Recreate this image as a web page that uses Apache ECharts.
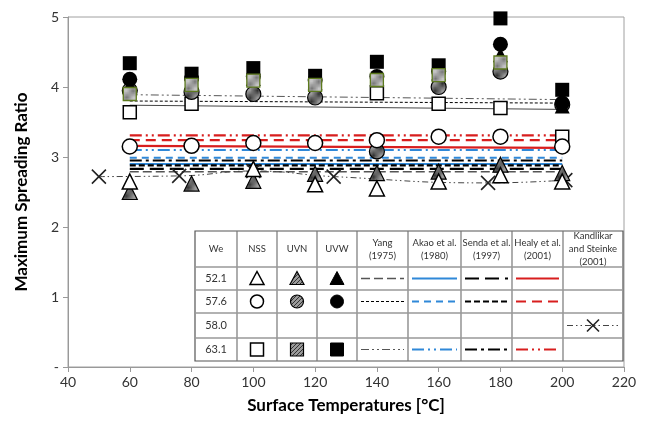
<!DOCTYPE html>
<html>
<head>
<meta charset="utf-8">
<script src="https://cdn.jsdelivr.net/npm/echarts@6/dist/echarts.min.js"></script>
<style>
  html, body { margin: 0; padding: 0; background: #fff; }
  #chart { width: 648px; height: 423px; }
</style>
</head>
<body>
<div id="chart"></div>
<script>
// surface temperatures (x) for the experiment points
const temps = [60, 80, 100, 120, 140, 160, 180, 200];

// experiments: NSS / UVN / UVW for We 52.1 (triangles), 57.6 (circles), 63.1 (squares)
const nss521 = [2.65, null, 2.83, 2.61, 2.55, 2.65, 2.74, 2.65];
const uvn521 = [2.50, 2.62, 2.66, 2.76, 2.77, 2.79, 2.89, 2.77];
const uvw521 = [4.02, 4.08, 4.12, 4.06, 4.12, 4.20, 4.46, 3.73];
const nss576 = [3.15, 3.16, 3.20, 3.20, 3.24, 3.29, 3.29, 3.15];
const uvn576 = [3.95, 3.93, 3.90, 3.85, 3.08, 4.00, 4.22, 3.75];
const uvw576 = [4.11, 4.12, 4.15, 4.10, 4.15, 4.22, 4.61, 3.77];
const nss631 = [3.64, 3.76, null, null, 3.91, 3.76, 3.70, 3.29];
const uvn631 = [3.90, 4.03, 4.09, 4.03, 4.10, 4.17, 4.35, null];
const uvw631 = [4.34, 4.19, 4.27, 4.16, 4.36, 4.31, 4.98, 3.96];

// correlations, value at 60 and at 200 °C
const modelX = [60, 200];
const yang521 = [2.79, 2.79];
const yang576 = [3.80, 3.77];
const yang631 = [3.89, 3.82];
const trendLine = [3.74, 3.68];
const akao521 = [2.90, 2.90];
const akao576 = [2.99, 2.99];
const akao631 = [3.10, 3.10];
const senda521 = [2.83, 2.83];
const senda576 = [2.88, 2.88];
const senda631 = [2.95, 2.95];
const healy521 = [3.16, 3.13];
const healy576 = [3.24, 3.24];
const healy631 = [3.31, 3.31];

// Kandlikar and Steinke (2001), We 58.0
const kandX = [50, 76, 100, 126, 176, 201];
const kandY = [2.72, 2.73, 2.80, 2.72, 2.63, 2.67];

const FONT = 'Lato';
const BLUE = '#2f88d8', RED = '#d81e1e', BLK = '#000', GREY = '#555';

function hatch(bg, fg) {
  const c = document.createElement('canvas');
  c.width = c.height = 4;
  const g = c.getContext('2d');
  g.fillStyle = bg; g.fillRect(0, 0, 4, 4);
  g.strokeStyle = fg; g.lineWidth = 1;
  g.beginPath(); g.moveTo(0, 4); g.lineTo(4, 0); g.stroke();
  return { image: c, repeat: 'repeat' };
}
const hatchDark = hatch('#9a9a9a', '#333');
const hatchLight = hatch('#c4c4c4', '#777');

const pair = (xs, ys) => xs.map((x, i) => [x, ys[i]]);

function modelSeries(name, ys, color, width, dash) {
  return {
    name, type: 'line', data: pair(modelX, ys), symbol: 'none', silent: true,
    lineStyle: { color, width, type: dash }, z: 2
  };
}

function pointSeries(name, ys, symbol, size, itemStyle) {
  return {
    name, type: 'scatter', data: pair(temps, ys), symbol, symbolSize: size,
    itemStyle: Object.assign({ opacity: 1 }, itemStyle), z: 5
  };
}

const series = [
  modelSeries('Yang 52.1', yang521, GREY, 1.5, [9, 4]),
  modelSeries('Yang 57.6', yang576, BLK, 1, [3, 2]),
  modelSeries('Yang 63.1', yang631, GREY, 1, [8, 3, 2, 3, 2, 3]),
  modelSeries('trend', trendLine, '#444', 1, 'solid'),
  modelSeries('Akao 52.1', akao521, BLUE, 2, 'solid'),
  modelSeries('Akao 57.6', akao576, BLUE, 2, [7, 5]),
  modelSeries('Akao 63.1', akao631, BLUE, 2, [12, 4, 2, 4, 2, 4]),
  modelSeries('Senda 52.1', senda521, BLK, 2.2, [14, 6]),
  modelSeries('Senda 57.6', senda576, BLK, 2.2, [6, 3]),
  modelSeries('Senda 63.1', senda631, BLK, 2.2, [12, 4, 3, 4]),
  modelSeries('Healy 52.1', healy521, RED, 2.2, 'solid'),
  modelSeries('Healy 57.6', healy576, RED, 2.2, [10, 6]),
  modelSeries('Healy 63.1', healy631, RED, 2.2, [12, 4, 2, 4, 2, 4]),
  {
    name: 'Kandlikar', type: 'line', data: pair(kandX, kandY), smooth: true,
    symbol: 'path://M0,0L10,10M10,0L0,10', symbolSize: 14, showSymbol: true,
    lineStyle: { color: '#444', width: 1, type: [6, 3, 1.5, 3, 1.5, 3] },
    itemStyle: { color: 'none', borderColor: '#222', borderWidth: 1.6 }, z: 4
  },
  pointSeries('NSS 63.1', nss631, 'rect', 13, { color: '#fff', borderColor: BLK, borderWidth: 1.5 }),
  pointSeries('UVN 57.6', uvn576, 'circle', 15, { color: hatchDark, borderColor: BLK, borderWidth: 1.2 }),
  pointSeries('UVW 52.1', uvw521, 'triangle', 15, { color: BLK }),
  pointSeries('UVW 57.6', uvw576, 'circle', 15, { color: BLK }),
  pointSeries('UVW 63.1', uvw631, 'rect', 14, { color: BLK }),
  pointSeries('UVN 63.1', uvn631, 'rect', 13, { color: hatchLight, borderColor: '#5d7a1e', borderWidth: 1.3 }),
  pointSeries('UVN 52.1', uvn521, 'triangle', 15, { color: hatchDark, borderColor: BLK, borderWidth: 1.2 }),
  pointSeries('NSS 52.1', nss521, 'triangle', 15, { color: '#fff', borderColor: BLK, borderWidth: 1.5 }),
  pointSeries('NSS 57.6', nss576, 'circle', 15, { color: '#fff', borderColor: BLK, borderWidth: 1.5 })
];

// legend table, drawn as graphic overlay
const colX = [195, 237, 277, 317, 357, 408, 461, 512, 563, 623];
const rowY = [231, 267, 290, 313, 338, 361];
const headers = ['We', 'NSS', 'UVN', 'UVW', 'Yang\n(1975)', 'Akao et al.\n(1980)',
  'Senda et al.\n(1997)', 'Healy et al.\n(2001)', 'Kandlikar\nand Steinke\n(2001)'];
const rowLabels = ['52.1', '57.6', '58.0', '63.1'];

function buildTable() {
  const g = [];
  const L = colX[0], R = colX[colX.length - 1], T = rowY[0], B = rowY[rowY.length - 1];
  g.push({ type: 'rect', shape: { x: L, y: T, width: R - L, height: B - T },
    style: { fill: '#fff', stroke: '#555', lineWidth: 1.2 }, z: 10 });
  colX.slice(1, -1).forEach(x => g.push({ type: 'line', shape: { x1: x, y1: T, x2: x, y2: B },
    style: { stroke: '#777', lineWidth: 1.2 }, z: 11 }));
  rowY.slice(1, -1).forEach(y => g.push({ type: 'line', shape: { x1: L, y1: y, x2: R, y2: y },
    style: { stroke: '#999', lineWidth: 1.6 }, z: 11 }));
  const cx = i => (colX[i] + colX[i + 1]) / 2;
  const cy = j => (rowY[j] + rowY[j + 1]) / 2;
  headers.forEach((h, i) => g.push({ type: 'text', x: cx(i), y: cy(0), z: 12,
    style: { text: h, font: '9.5px ' + FONT, fill: '#333', align: 'center', verticalAlign: 'middle', lineHeight: 13 } }));
  rowLabels.forEach((r, j) => g.push({ type: 'text', x: cx(0), y: cy(j + 1), z: 12,
    style: { text: r, font: '11px ' + FONT, fill: '#333', align: 'center', verticalAlign: 'middle' } }));

  const fills = [{ fill: '#fff', stroke: BLK, lineWidth: 1.5 },
    { fill: hatchDark, stroke: BLK, lineWidth: 1.2 },
    { fill: BLK, stroke: BLK, lineWidth: 1 }];
  const shapeRows = { 1: 'tri', 2: 'circ', 4: 'sq' };
  Object.keys(shapeRows).forEach(j => {
    const y = cy(+j);
    fills.forEach((st, k) => {
      const x = cx(k + 1);
      const kind = shapeRows[j];
      if (kind === 'tri') g.push({ type: 'polygon', z: 12, style: st,
        shape: { points: [[x, y - 7], [x + 7, y + 6], [x - 7, y + 6]] } });
      else if (kind === 'circ') g.push({ type: 'circle', z: 12, style: st, shape: { cx: x, cy: y, r: 6.5 } });
      else g.push({ type: 'rect', z: 12, style: st, shape: { x: x - 6.5, y: y - 6.5, width: 13, height: 13 } });
    });
  });

  const samples = [
    [4, 1, GREY, 1.5, [9, 4]], [4, 2, BLK, 1, [3, 2]], [4, 4, GREY, 1, [8, 3, 2, 3, 2, 3]],
    [5, 1, BLUE, 2, null], [5, 2, BLUE, 2, [7, 5]], [5, 4, BLUE, 2, [12, 4, 2, 4, 2, 4]],
    [6, 1, BLK, 2.2, [14, 6]], [6, 2, BLK, 2.2, [6, 3]], [6, 4, BLK, 2.2, [12, 4, 3, 4]],
    [7, 1, RED, 2.2, null], [7, 2, RED, 2.2, [10, 6]], [7, 4, RED, 2.2, [12, 4, 2, 4, 2, 4]],
    [8, 3, '#444', 1, [6, 3, 1.5, 3, 1.5, 3]]
  ];
  samples.forEach(([i, j, color, w, dash]) => {
    const y = cy(j);
    g.push({ type: 'line', z: 12, shape: { x1: colX[i] + 4, y1: y, x2: colX[i + 1] - 4, y2: y },
      style: { stroke: color, lineWidth: w, lineDash: dash } });
  });
  const kx = cx(8), ky = cy(3);
  g.push({ type: 'polyline', z: 13, shape: { points: [[kx - 6, ky - 6], [kx + 6, ky + 6]] }, style: { stroke: '#222', lineWidth: 1.6, fill: null } });
  g.push({ type: 'polyline', z: 13, shape: { points: [[kx + 6, ky - 6], [kx - 6, ky + 6]] }, style: { stroke: '#222', lineWidth: 1.6, fill: null } });
  return g;
}

const chart = echarts.init(document.getElementById('chart'));
chart.setOption({
  animation: false,
  textStyle: { fontFamily: FONT },
  grid: { left: 68, right: 24, top: 17, bottom: 56, show: true, borderColor: '#a0a0a0', borderWidth: 1 },
  xAxis: {
    type: 'value', min: 40, max: 220, interval: 20,
    name: 'Surface Temperatures [°C]', nameLocation: 'middle', nameGap: 30,
    nameTextStyle: { fontFamily: FONT, fontWeight: 'bold', fontSize: 17, color: '#000' },
    axisLine: { lineStyle: { color: '#999' } },
    axisTick: { length: 5, lineStyle: { color: '#999' } },
    axisLabel: { fontSize: 14, color: '#333', margin: 8 },
    splitLine: { show: false }
  },
  yAxis: {
    type: 'value', min: 0, max: 5, interval: 1,
    name: 'Maximum Spreading Ratio', nameLocation: 'middle', nameGap: 38,
    nameTextStyle: { fontFamily: FONT, fontWeight: 'bold', fontSize: 17, color: '#000' },
    axisLine: { show: true, lineStyle: { color: '#999' } },
    axisTick: { show: true, length: 5, lineStyle: { color: '#999' } },
    axisLabel: { fontSize: 14, color: '#333', margin: 9, formatter: v => v === 0 ? '-' : String(v) },
    splitLine: { show: false }
  },
  series,
  graphic: buildTable()
});
</script>
</body>
</html>
